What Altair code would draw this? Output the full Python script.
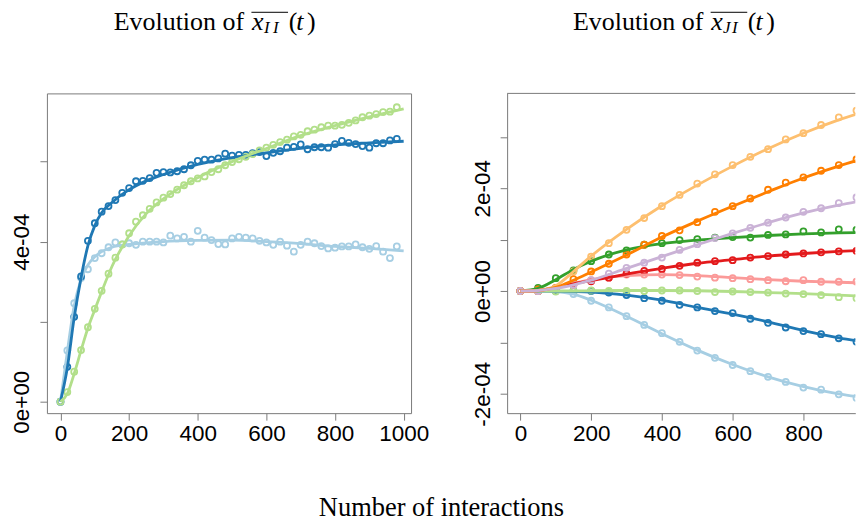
import altair as alt
import pandas as pd

SCALE = 1e-4  # values below are read in units of 1e-4

# ---------------- Left panel: Evolution of x_II(t) ----------------
left_x = list(range(0, 1000, 20))
left_light_blue = [0, 1.28, 2.46, 3.09, 3.31, 3.59, 3.71, 3.86, 3.98, 3.93,
                   3.96, 3.92, 4.0, 4.0, 4.0, 3.98, 4.15, 4.08, 4.12, 4.0,
                   4.27, 4.1, 4.04, 3.94, 3.93, 4.08, 4.12, 4.1, 4.08, 4.02,
                   3.98, 3.92, 4.0, 3.9, 3.75, 3.92, 4.0, 3.96, 3.89, 3.83,
                   3.85, 3.88, 3.88, 3.93, 3.86, 3.82, 3.89, 3.75, 3.59, 3.88]
left_dark_blue = [0, 0.87, 2.12, 3.13, 4.02, 4.46, 4.75, 4.89, 5.04, 5.22,
                  5.34, 5.51, 5.52, 5.59, 5.72, 5.74, 5.73, 5.76, 5.81, 5.91,
                  6.02, 6.05, 6.05, 6.08, 6.2, 6.15, 6.17, 6.17, 6.21, 6.24,
                  6.14, 6.22, 6.26, 6.35, 6.37, 6.43, 6.31, 6.36, 6.36, 6.35,
                  6.44, 6.52, 6.47, 6.44, 6.39, 6.35, 6.46, 6.46, 6.53, 6.57]
left_light_green = [0, 0.24, 0.75, 1.29, 1.86, 2.32, 2.77, 3.2, 3.6, 3.93,
                    4.21, 4.5, 4.66, 4.82, 4.98, 5.1, 5.19, 5.3, 5.41, 5.51,
                    5.58, 5.63, 5.74, 5.81, 5.91, 5.99, 6.06, 6.12, 6.19, 6.28,
                    6.35, 6.42, 6.49, 6.55, 6.63, 6.67, 6.76, 6.8, 6.86, 6.9,
                    6.9, 6.92, 6.97, 7.03, 7.11, 7.15, 7.19, 7.24, 7.25, 7.36]

left_curve_x = [0, 20, 40, 60, 80, 100, 120, 150, 200, 250, 300, 400, 500, 600, 700, 800, 900, 1000]
left_curve_light_blue = [0, 1.25, 2.4, 3.05, 3.42, 3.62, 3.75, 3.86, 3.93, 3.97, 4.0, 4.03, 4.04, 4.0, 3.95, 3.88, 3.83, 3.77]
left_curve_dark_blue = [0, 0.85, 2.1, 3.1, 3.9, 4.4, 4.72, 4.98, 5.3, 5.52, 5.68, 5.93, 6.1, 6.22, 6.33, 6.42, 6.47, 6.51]
left_curve_light_green = [0, 0.2, 0.7, 1.28, 1.84, 2.3, 2.75, 3.38, 4.15, 4.7, 5.07, 5.6, 6.0, 6.33, 6.65, 6.9, 7.12, 7.32]

left_names = ["light blue", "dark blue", "light green"]
left_colors = ["#a6cee3", "#1f78b4", "#b2df8a"]

# ---------------- Right panel: Evolution of x_JI(t) ----------------
right_x = list(range(0, 1000, 50))
right_points = {
    "light blue": [0, 0, 0, -0.06, -0.19, -0.32, -0.49, -0.66, -0.82, -0.99, -1.16, -1.3, -1.44, -1.56, -1.67, -1.77, -1.88, -1.92, -2.01, -2.08],
    "dark blue": [0, 0, 0, 0, 0, -0.03, -0.08, -0.14, -0.19, -0.27, -0.32, -0.39, -0.43, -0.54, -0.62, -0.71, -0.78, -0.84, -0.92, -0.99],
    "light green": [0, 0, -0.01, 0, 0.01, 0, 0, 0, 0.01, 0.01, 0, -0.02, -0.01, -0.02, -0.03, -0.05, -0.06, -0.08, -0.12, -0.14],
    "green": [0, 0.06, 0.25, 0.4, 0.58, 0.71, 0.79, 0.9, 0.93, 0.99, 1.01, 1.04, 1.05, 1.04, 1.09, 1.1, 1.16, 1.14, 1.2, 1.19],
    "pink": [0, 0, 0.05, 0.12, 0.21, 0.26, 0.32, 0.32, 0.32, 0.31, 0.28, 0.26, 0.25, 0.23, 0.21, 0.19, 0.21, 0.18, 0.18, 0.18],
    "red": [0, 0, 0.05, 0.13, 0.19, 0.26, 0.34, 0.39, 0.43, 0.49, 0.55, 0.58, 0.6, 0.65, 0.68, 0.71, 0.73, 0.75, 0.77, 0.78],
    "light orange": [0, 0, 0.06, 0.38, 0.67, 0.93, 1.19, 1.42, 1.65, 1.87, 2.09, 2.27, 2.45, 2.61, 2.76, 2.95, 3.07, 3.23, 3.38, 3.51],
    "orange": [0, 0.03, 0.06, 0.23, 0.38, 0.53, 0.71, 0.9, 1.07, 1.18, 1.34, 1.54, 1.65, 1.8, 1.97, 2.11, 2.21, 2.34, 2.45, 2.56],
    "lavender": [0, 0, 0.05, 0.12, 0.21, 0.34, 0.45, 0.55, 0.65, 0.8, 0.91, 1.03, 1.12, 1.23, 1.33, 1.43, 1.54, 1.61, 1.71, 1.82],
}
right_curve_x = [0, 50, 100, 150, 200, 300, 400, 500, 600, 700, 800, 900, 1000]
right_curves = {
    "light blue": [0, 0, -0.01, -0.06, -0.18, -0.49, -0.83, -1.15, -1.43, -1.67, -1.86, -2.0, -2.1],
    "dark blue": [0, 0, -0.005, -0.01, -0.02, -0.08, -0.18, -0.32, -0.45, -0.6, -0.77, -0.91, -1.02],
    "light green": [0, 0, 0, 0, 0.005, 0.01, 0.01, 0.005, -0.01, -0.03, -0.05, -0.08, -0.11],
    "green": [0, 0.05, 0.22, 0.42, 0.58, 0.8, 0.92, 0.99, 1.04, 1.08, 1.11, 1.13, 1.14],
    "pink": [0, 0.01, 0.07, 0.15, 0.22, 0.3, 0.32, 0.3, 0.26, 0.22, 0.19, 0.17, 0.15],
    "red": [0, 0.01, 0.07, 0.14, 0.2, 0.33, 0.44, 0.54, 0.61, 0.68, 0.73, 0.77, 0.8],
    "light orange": [0, 0.01, 0.1, 0.38, 0.68, 1.2, 1.66, 2.06, 2.43, 2.77, 3.07, 3.33, 3.55],
    "orange": [0, 0.01, 0.07, 0.21, 0.37, 0.7, 1.05, 1.36, 1.65, 1.93, 2.2, 2.43, 2.64],
    "lavender": [0, 0.01, 0.05, 0.12, 0.21, 0.44, 0.67, 0.9, 1.12, 1.33, 1.52, 1.67, 1.8],
}
right_names = ["light blue", "dark blue", "light green", "green", "pink", "red",
               "light orange", "orange", "lavender"]
right_colors = ["#a6cee3", "#1f78b4", "#b2df8a", "#33a02c", "#fb9a99", "#e31a1c",
                "#fdbf6f", "#ff7f00", "#cab2d6"]

left_xticks = [0, 200, 400, 600, 800, 1000]
left_yticks = [0, 0.0002, 0.0004, 0.0006]
left_ylabels = [(0, "0e+00"), (0.0004, "4e-04")]
right_xticks = [0, 200, 400, 600, 800]
right_yticks = [-0.0002, -0.0001, 0, 0.0001, 0.0002, 0.0003]
right_ylabels = [(-0.0002, "-2e-04"), (0, "0e+00"), (0.0002, "2e-04")]

AX_GREY = "#7a7a7a"
LABEL_FONT = "Liberation Sans"
SERIF = "Liberation Serif"


def frame(xs, series, order):
    rows = []
    for name in order:
        for x, v in zip(xs, series[name]):
            rows.append({"t": x, "value": v * SCALE, "series": name})
    return pd.DataFrame(rows)


def label_expr(labels):
    s = ""
    for v, txt in labels:
        s += f"abs(datum.value - ({v})) < 1e-12 ? '{txt}' : "
    return s + "''"


ONE = alt.Data(values=[{}])


def txt(s, x, y, size=26, style="normal"):
    return alt.Chart(ONE).mark_text(
        text=s, font=SERIF, fontSize=size, fontStyle=style, align="left",
        baseline="alphabetic", color="black"
    ).encode(x=alt.value(x), y=alt.value(y))


def title_layers(b, sub1, sub2):
    main_y, sub_y = -63.3, -60.3
    return [
        txt("Evolution of", b, main_y),
        txt("x", b + 138.7, main_y, style="italic"),
        txt(sub1, b + 150.5, sub_y, size=17, style="italic"),
        txt(sub2, b + 159.5, sub_y, size=17, style="italic"),
        txt("(", b + 175.3, main_y),
        txt("t", b + 183, main_y, style="italic"),
        txt(")", b + 193.7, main_y),
        alt.Chart(ONE).mark_rule(color="black", strokeWidth=1).encode(
            x=alt.value(b + 138), x2=alt.value(b + 174.7), y=alt.value(-81.3)),
    ]


def panel(pts, crv, names, colors, xdom, ydom, width, height,
          xticks, yticks, ylabels, title_base, subs, open_right):
    color = alt.Color("series:N", scale=alt.Scale(domain=names, range=colors), legend=None)
    common = dict(title=None, grid=False, domain=open_right, domainColor=AX_GREY,
                  domainWidth=1, tickColor=AX_GREY, tickSize=7, tickWidth=1,
                  labelFont=LABEL_FONT, labelFontSize=22.5, labelColor="black",
                  labelFlush=False, labelOverlap=False)
    x_axis = alt.Axis(values=xticks, format="d", labelPadding=2, **common)
    y_axis = alt.Axis(values=yticks, labelExpr=label_expr(ylabels), labelAngle=270,
                      labelAlign="center", labelBaseline="bottom", labelPadding=6, **common)
    xs = alt.Scale(domain=xdom, nice=False, zero=False)
    ys = alt.Scale(domain=ydom, nice=False, zero=False)
    points = alt.Chart(pts).mark_point(
        filled=False, size=36, strokeWidth=1.8, opacity=1, clip=True
    ).encode(x=alt.X("t:Q", scale=xs, axis=x_axis),
             y=alt.Y("value:Q", scale=ys, axis=y_axis), color=color)
    lines = alt.Chart(crv).mark_line(
        strokeWidth=2.8, interpolate="monotone", clip=True
    ).encode(x=alt.X("t:Q", scale=xs, axis=x_axis),
             y=alt.Y("value:Q", scale=ys, axis=y_axis), color=color)
    layers = [points, lines] + title_layers(title_base, *subs)
    if open_right:
        layers.append(alt.Chart(ONE).mark_rule(color=AX_GREY, strokeWidth=1).encode(
            x=alt.value(0), x2=alt.value(width), y=alt.value(0)))
        view = alt.ViewBackground(stroke="transparent")
    else:
        view = alt.ViewBackground(stroke=AX_GREY, strokeWidth=1)
    return alt.layer(*layers).properties(width=width, height=height, view=view)


left_pts = frame(left_x, {"light blue": left_light_blue, "dark blue": left_dark_blue,
                          "light green": left_light_green}, left_names)
left_crv = frame(left_curve_x, {"light blue": left_curve_light_blue,
                                "dark blue": left_curve_dark_blue,
                                "light green": left_curve_light_green}, left_names)
right_pts = frame(right_x, right_points, right_names)
right_crv = frame(right_curve_x, right_curves, right_names)

left = panel(left_pts, left_crv, left_names, left_colors,
             [-39.5, 1021.5], [-0.287e-4, 7.706e-4], 365, 320.5,
             left_xticks, left_yticks, left_ylabels, 67, ("I", "I"), False)
right = panel(right_pts, right_crv, right_names, right_colors,
              [-37.5, 946.7], [-2.377e-4, 3.845e-4], 349, 320.5,
              right_xticks, right_yticks, right_ylabels, 66, ("J", "I"), True)

chart = alt.hconcat(left, right, spacing=96.3, bounds="flush").resolve_scale(
    color="independent"
).properties(
    title=alt.TitleParams("Number of interactions", orient="bottom", anchor="middle",
                          font=SERIF, fontSize=26.5, fontWeight="normal", color="black",
                          offset=50, dx=8),
    padding={"left": 2, "top": 0, "right": 0, "bottom": 0},
)

chart.save("out.html", embed_options={"renderer": "svg", "actions": False})
